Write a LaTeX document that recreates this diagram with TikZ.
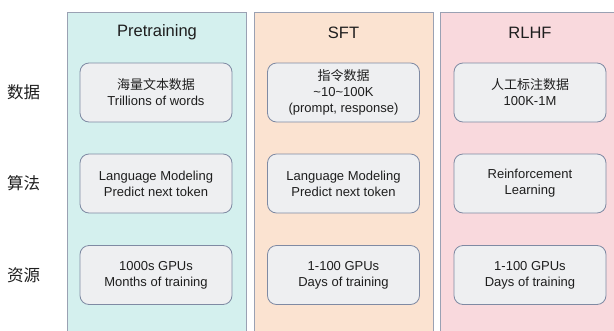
\documentclass[tikz,border=0pt]{standalone}
\usepackage{fontspec}
\setmainfont{Liberation Sans}
\newfontfamily\cjk{Noto Sans CJK SC}
\usetikzlibrary{positioning}
\definecolor{preFill}{HTML}{D4F0EE}
\definecolor{sftFill}{HTML}{FBE3D1}
\definecolor{rlhfFill}{HTML}{F9D9DD}
\definecolor{cellFill}{HTML}{EEEFF1}
\definecolor{cellEdge}{HTML}{7F8AA3}
\definecolor{stageEdge}{HTML}{9AA1B3}
\definecolor{ink}{HTML}{1E1E1E}
\tikzset
{
    stage/.style     = {draw=stageEdge, line width=0.8pt, minimum width=179pt, minimum height=330pt, anchor=north},
    cell/.style      = {draw=cellEdge, line width=0.8pt, fill=cellFill, rounded corners=9pt, minimum width=152pt, minimum height=59pt, align=center, text=ink, font=\fontsize{13}{16}\selectfont},
    stagetitle/.style = {text=ink, font=\fontsize{16.5}{20}\selectfont},
    rowlabel/.style  = {text=ink, font=\cjk\fontsize{16.5}{20}\selectfont}
}

\begin{document}
\begin{tikzpicture}[x=1pt, y=-1pt]
    \clip (0,0) rectangle (614,330);
    \fill[white] (0,0) rectangle (614,330);

    % columns
    \node [stage, fill=preFill]  (colPre)  at (156.5,12) {};
    \node [stage, fill=sftFill]  (colSft)  at (343.5,12) {};
    \node [stage, fill=rlhfFill] (colRlhf) at (530,12) {};

    \node [stagetitle] (titlePre)  at (157,32.5) {Pretraining};
    \node [stagetitle] (titleSft)  at (343.5,32.5) {SFT};
    \node [stagetitle] (titleRlhf) at (530,32.5) {RLHF};

    % data row
    \node [cell] (preData)  at (156,92.5) {{\cjk 海量文本数据}\\Trillions of words};
    \node [cell] (sftData)  at (343.5,92.5) {{\cjk 指令数据}\\\textasciitilde10\textasciitilde100K\\(prompt, response)};
    \node [cell] (rlhfData) at (530,92.5) {{\cjk 人工标注数据}\\100K-1M};

    % algorithm row
    \node [cell] (preAlgo)  at (156,183.5) {Language Modeling\\Predict next token};
    \node [cell] (sftAlgo)  at (343.5,183.5) {Language Modeling\\Predict next token};
    \node [cell] (rlhfAlgo) at (530,183.5) {Reinforcement\\Learning};

    % resource row
    \node [cell] (preRes)  at (156,275) {1000s GPUs\\Months of training};
    \node [cell] (sftRes)  at (343.5,275) {1-100 GPUs\\Days of training};
    \node [cell] (rlhfRes) at (530,275) {1-100 GPUs\\Days of training};

    % row labels
    \node [rowlabel, left=36pt of preData] (labData) {数据};
    \node [rowlabel, left=36pt of preAlgo] (labAlgo) {算法};
    \node [rowlabel, left=36pt of preRes]  (labRes)  {资源};
\end{tikzpicture}
\end{document}
